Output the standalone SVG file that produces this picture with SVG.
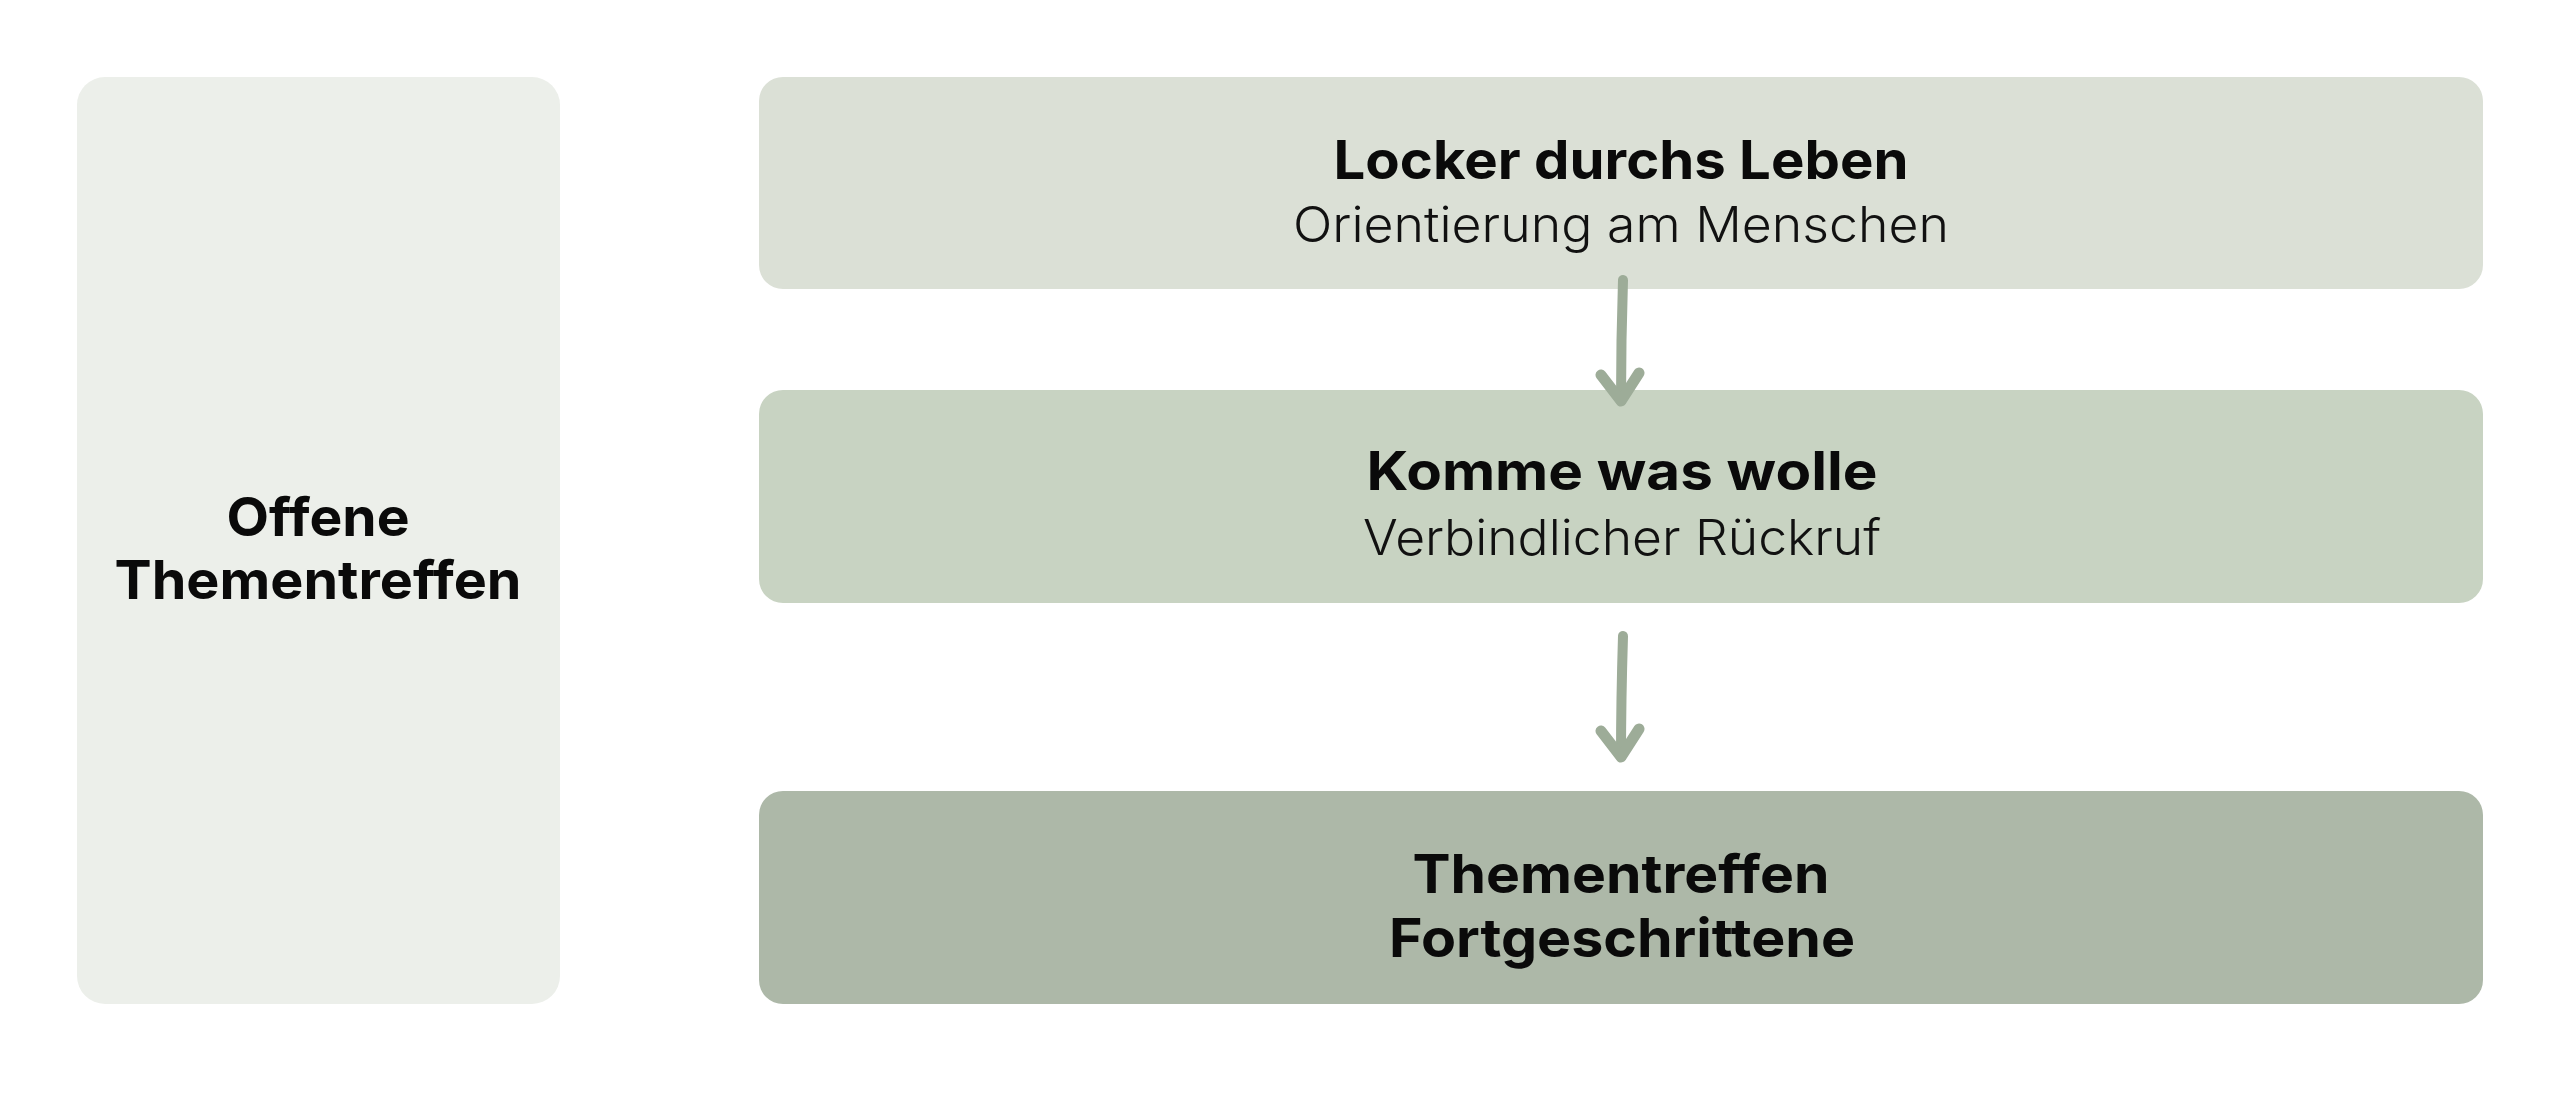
<svg xmlns="http://www.w3.org/2000/svg" width="2560" height="1118" viewBox="0 0 2560 1118">
<style>
.title{font-family:Inter,"Liberation Sans",sans-serif;font-weight:700;font-size:54px;fill:#0a0a0a;text-anchor:middle}
.sub{font-family:Inter,"Liberation Sans",sans-serif;font-weight:300;font-size:49px;fill:#111;text-anchor:middle}
.conn{fill:none;stroke:#9DAC98;stroke-width:10;stroke-linecap:round;stroke-linejoin:round}
</style>
<defs>
<marker id="head" viewBox="-35 -35 70 70" markerWidth="70" markerHeight="70" markerUnits="userSpaceOnUse" refX="0" refY="0" orient="auto">
<path d="M-28,-18 L0,0 L-26,20" fill="none" stroke="#9DAC98" stroke-width="11" stroke-linecap="round" stroke-linejoin="round"/>
</marker>
</defs>
<rect width="2560" height="1118" fill="#ffffff"/>
<g id="node-offene">
<rect x="77" y="77" width="483" height="927" rx="28" fill="#ECEFEA"/>
<text class="title" x="318" y="536" textLength="183" lengthAdjust="spacingAndGlyphs">Offene</text>
<text class="title" x="318" y="599" textLength="407" lengthAdjust="spacingAndGlyphs">Thementreffen</text>
</g>
<g id="node-locker">
<rect x="759" y="77" width="1724" height="212" rx="24" fill="#DBE0D6"/>
<text class="title" x="1621" y="179" textLength="575" lengthAdjust="spacingAndGlyphs">Locker durchs Leben</text>
<text class="sub" x="1621" y="242" textLength="656" lengthAdjust="spacingAndGlyphs">Orientierung am Menschen</text>
</g>
<g id="node-komme">
<rect x="759" y="390" width="1724" height="213" rx="24" fill="#C8D3C2"/>
<text class="title" x="1622" y="490" textLength="511" lengthAdjust="spacingAndGlyphs">Komme was wolle</text>
<text class="sub" x="1622" y="555" textLength="518" lengthAdjust="spacingAndGlyphs">Verbindlicher Rückruf</text>
</g>
<g id="node-thementreffen">
<rect x="759" y="791" width="1724" height="213" rx="24" fill="#ADB8A8"/>
<text class="title" x="1621" y="893" textLength="417" lengthAdjust="spacingAndGlyphs">Thementreffen</text>
<text class="title" x="1622" y="957" textLength="466" lengthAdjust="spacingAndGlyphs">Fortgeschrittene</text>
</g>
<g id="connectors">
<path class="conn" d="M1623,280 Q1621,340 1621,401" marker-end="url(#head)"/>
<path class="conn" d="M1623,636 Q1621,700 1621,757" marker-end="url(#head)"/>
</g>
</svg>
